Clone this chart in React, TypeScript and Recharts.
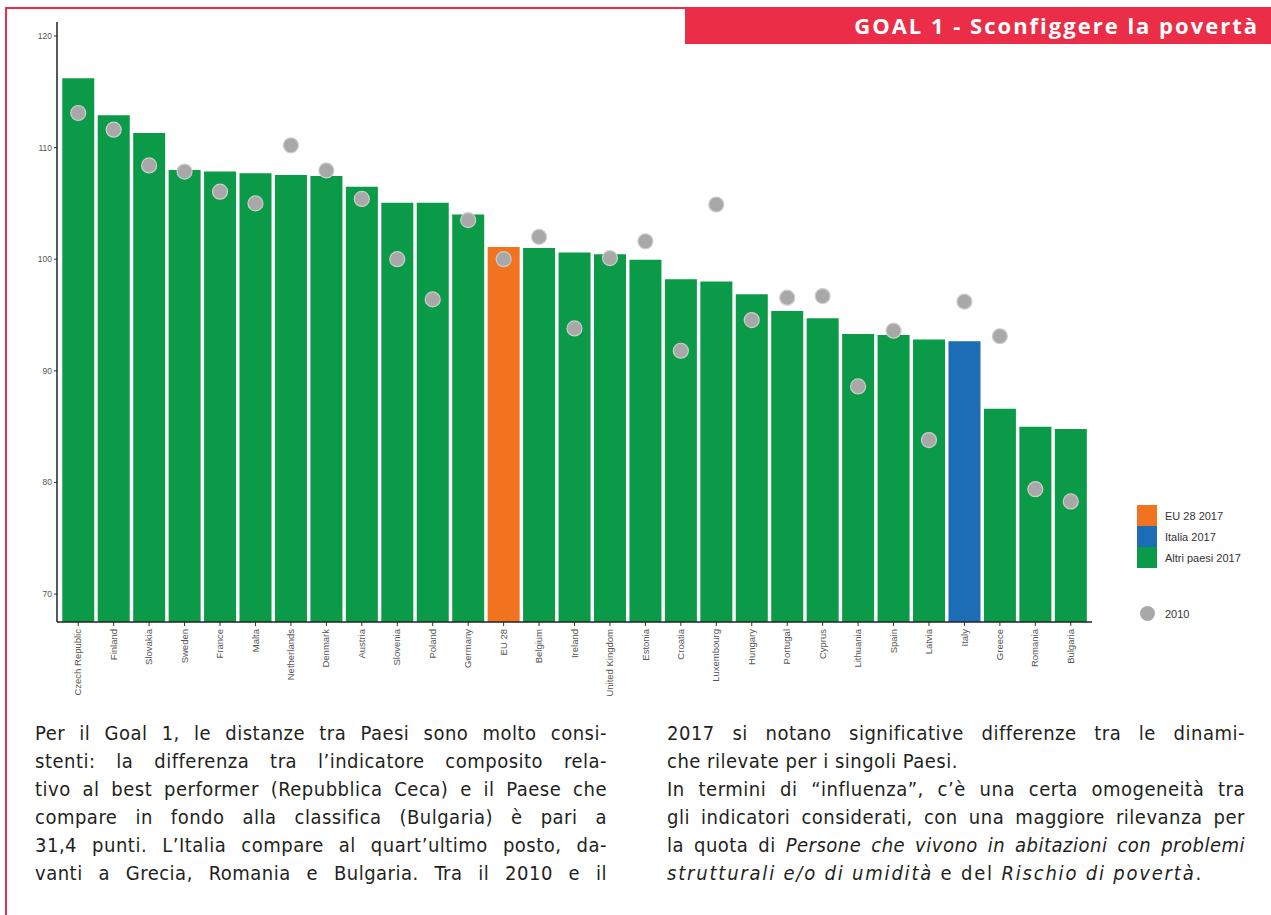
import { ComposedChart, Bar, Line, XAxis, YAxis, Cell, Legend } from 'recharts'

// composite index Goal 1, 2017 bars and 2010 dots
const countries = [
  'Czech Republic', 'Finland', 'Slovakia', 'Sweden', 'France', 'Malta', 'Netherlands',
  'Denmark', 'Austria', 'Slovenia', 'Poland', 'Germany', 'EU 28', 'Belgium', 'Ireland',
  'United Kingdom', 'Estonia', 'Croatia', 'Luxembourg', 'Hungary', 'Portugal', 'Cyprus',
  'Lithuania', 'Spain', 'Latvia', 'Italy', 'Greece', 'Romania', 'Bulgaria',
]
const index2017 = [
  116.2, 112.9, 111.3, 108.0, 107.85, 107.7, 107.55, 107.45, 106.5, 105.05, 105.05, 104.0,
  101.1, 101.0, 100.6, 100.45, 99.95, 98.2, 98.0, 96.85, 95.35, 94.7, 93.3, 93.2,
  92.8, 92.65, 86.6, 85.0, 84.8,
]
const index2010 = [
  113.1, 111.6, 108.4, 107.85, 106.05, 105.0, 110.2, 107.95, 105.4, 100.0, 96.4, 103.5,
  100.0, 102.0, 93.8, 100.1, 101.6, 91.8, 104.9, 94.55, 96.55, 96.7, 88.6, 93.6,
  83.8, 96.2, 93.1, 79.4, 78.3,
]
const yTicks = [70, 80, 90, 100, 110, 120]
const legendLabels = ['EU 28 2017', 'Italia 2017', 'Altri paesi 2017']
const dotLabel = '2010'

const leftLines = [
  'Per il Goal 1, le distanze tra Paesi sono molto consi-',
  'stenti: la differenza tra l’indicatore composito rela-',
  'tivo al best performer (Repubblica Ceca) e il Paese che',
  'compare in fondo alla classifica (Bulgaria) è pari a',
  '31,4 punti. L’Italia compare al quart’ultimo posto, da-',
  'vanti a Grecia, Romania e Bulgaria. Tra il 2010 e il',
]

const GREEN = '#0b9a47'
const ORANGE = '#f1731f'
const BLUE = '#1c6db6'
const DOT = '#a8a8a8'
const RED = '#ec2d47'
const legendColors = [ORANGE, BLUE, GREEN]
const bodyFont = "'DejaVu Sans Condensed', 'DejaVu Sans', sans-serif"

const data = countries.map((name, i) => ({ name, v2017: index2017[i], v2010: index2010[i] }))

function barColor(name: string) {
  if (name === 'EU 28') return ORANGE
  if (name === 'Italy') return BLUE
  return GREEN
}

function CountryTick({ x, y, payload }: any) {
  return (
    <text
      x={x}
      y={y}
      transform={`rotate(-90, ${x}, ${y})`}
      textAnchor="end"
      dy="0.33em"
      fontSize={9.5}
      fill="#555"
      fontFamily="'Liberation Sans', Arial, sans-serif"
    >
      {payload.value}
    </text>
  )
}

function Dot2010({ cx, cy }: any) {
  if (cx == null || cy == null) return null
  return <circle cx={cx} cy={cy} r={7.5} fill={DOT} stroke="#cdcdcd" strokeWidth={1.2} />
}

function LegendBox() {
  return (
    <div style={{ fontFamily: "'Liberation Sans', Arial, sans-serif", fontSize: 11, color: '#333' }}>
      {legendLabels.map((label, i) => (
        <div key={label} style={{ display: 'flex', alignItems: 'center', height: 21 }}>
          <span style={{ width: 20, height: 21, background: legendColors[i], display: 'inline-block' }} />
          <span style={{ marginLeft: 8 }}>{label}</span>
        </div>
      ))}
      <div style={{ display: 'flex', alignItems: 'center', height: 21, marginTop: 35 }}>
        <span style={{ width: 20, display: 'inline-flex', justifyContent: 'center' }}>
          <span style={{ width: 15, height: 15, borderRadius: '50%', background: DOT, display: 'inline-block' }} />
        </span>
        <span style={{ marginLeft: 8 }}>{dotLabel}</span>
      </div>
    </div>
  )
}

const lineStyle = { height: 28, lineHeight: '28px', whiteSpace: 'nowrap' as const }
const justified = { ...lineStyle, whiteSpace: 'normal' as const, textAlign: 'justify' as const, textAlignLast: 'justify' as const }
const column = { position: 'absolute' as const, top: 719, fontFamily: bodyFont, fontSize: 20, letterSpacing: 0.5, color: '#231f20' }

export default function App() {
  return (
    <div style={{ position: 'absolute', left: 0, top: 0, width: 1271, height: 915, background: '#fff', overflow: 'hidden' }}>
      {/* red frame */}
      <div style={{ position: 'absolute', left: 5, top: 7, width: 1266, height: 2, background: RED }} />
      <div style={{ position: 'absolute', left: 5, top: 7, width: 2, height: 908, background: RED }} />
      <div
        style={{
          position: 'absolute', left: 685, top: 7, width: 586, height: 37, background: RED,
          color: '#fff', fontFamily: "'Open Sans', sans-serif", fontWeight: 700, fontSize: 22,
          letterSpacing: 2, lineHeight: '37px', textAlign: 'right', paddingRight: 12, boxSizing: 'border-box',
        }}
      >
        GOAL 1 - Sconfiggere la povertà
      </div>

      <div style={{ position: 'absolute', left: 0, top: 0 }}>
        <ComposedChart
          width={1271}
          height={700}
          data={data}
          margin={{ top: 22, right: 179, left: 17, bottom: 0 }}
          barCategoryGap="5%"
        >
          <XAxis
            dataKey="name"
            interval={0}
            height={78}
            padding={{ left: 3.5, right: 3.5 }}
            tick={<CountryTick />}
            tickSize={4}
            tickMargin={3}
            tickLine={{ stroke: '#333' }}
            axisLine={{ stroke: '#222', strokeWidth: 1.5 }}
          />
          <YAxis
            type="number"
            domain={[67.5, 121.25]}
            ticks={yTicks}
            allowDataOverflow
            width={40}
            tickSize={3}
            tickMargin={2}
            tick={{ fontSize: 8.5, fill: '#555', fontFamily: "'Liberation Sans', Arial, sans-serif" }}
            tickLine={{ stroke: '#333' }}
            axisLine={{ stroke: '#222', strokeWidth: 1.5 }}
          />
          <Bar dataKey="v2017" isAnimationActive={false}>
            {data.map((d) => (
              <Cell key={d.name} fill={barColor(d.name)} />
            ))}
          </Bar>
          <Line
            dataKey="v2010"
            stroke="none"
            dot={<Dot2010 />}
            activeDot={false}
            legendType="none"
            isAnimationActive={false}
          />
          <Legend
            layout="vertical"
            align="center"
            verticalAlign="middle"
            content={<LegendBox />}
            wrapperStyle={{ left: 1137, top: 505, width: 134 }}
          />
        </ComposedChart>
      </div>

      {/* commentary */}
      <div style={{ ...column, left: 35, width: 572 }}>
        {leftLines.map((l) => (
          <div key={l} style={justified}>{l}</div>
        ))}
      </div>
      <div style={{ ...column, left: 667, width: 578 }}>
        <div style={justified}>2017 si notano significative differenze tra le dinami-</div>
        <div style={lineStyle}>che rilevate per i singoli Paesi.</div>
        <div style={justified}>In termini di “influenza”, c’è una certa omogeneità tra</div>
        <div style={justified}>gli indicatori considerati, con una maggiore rilevanza per</div>
        <div style={justified}>la quota di <i>Persone che vivono in abitazioni con problemi</i></div>
        <div style={{ ...lineStyle, letterSpacing: 1.8 }}><i>strutturali e/o di umidità</i> e del <i>Rischio di povertà</i>.</div>
      </div>
    </div>
  )
}
